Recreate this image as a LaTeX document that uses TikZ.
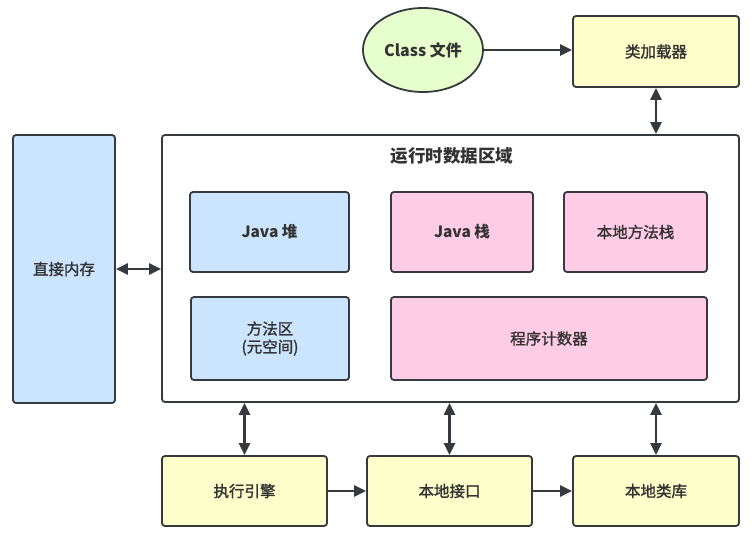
\documentclass[tikz,border=0pt]{standalone}
\usepackage{fontspec}
\setmainfont{Noto Sans CJK SC}
\newfontfamily\medfont[FakeBold=1.6]{Noto Sans CJK SC}
\usetikzlibrary{arrows.meta,shapes.geometric}
\definecolor{strk}{HTML}{36393D}
\definecolor{txt}{HTML}{333333}
\definecolor{yel}{HTML}{FFFFCC}
\definecolor{blu}{HTML}{CCE5FF}
\definecolor{pnk}{HTML}{FFCCE6}
\definecolor{grn}{HTML}{E6FFCC}
\tikzset{
  box/.style={draw=strk, line width=1.8pt, rounded corners=3pt, text=txt, font=\medfont\fontsize{15.5}{18}\selectfont, align=center, inner sep=0pt},
  boldtext/.style={font=\fontsize{15.5}{18}\selectfont\bfseries},
  ybox/.style={box, fill=yel},
  bbox/.style={box, fill=blu},
  pbox/.style={box, fill=pnk},
  conn/.style={draw=strk, line width=2.6pt, -{Triangle[length=12pt,width=11pt]}},
  dconn/.style={draw=strk, line width=2.6pt, {Triangle[length=12pt,width=11pt]}-{Triangle[length=12pt,width=11pt]}}
}
\begin{document}
\begin{tikzpicture}[x=1pt,y=-1pt]
\useasboundingbox[fill=white] (0,0) rectangle (755,538);
% top
\node[ellipse, draw=strk, line width=1.8pt, fill=grn, minimum width=120pt, minimum height=84pt, inner sep=0pt, text=txt, font=\fontsize{16}{19}\selectfont\bfseries] (cls) at (423,50) {Class 文件};
\node[ybox, minimum width=166pt, minimum height=71pt] (loader) at (656,51.5) {类加载器};
% runtime area
\node[box, fill=white, minimum width=577pt, minimum height=267pt] (rt) at (450.5,268.5) {};
\node[text=txt, font=\fontsize{17.5}{20}\selectfont\bfseries] (title) at (452,156) {运行时数据区域};
\node[bbox, minimum width=102pt, minimum height=268pt] (mem) at (64,269) {直接内存};
\node[bbox, boldtext, minimum width=159pt, minimum height=80pt] (heap) at (269.5,232) {Java 堆};
\node[bbox, minimum width=158pt, minimum height=83pt] (method) at (270,338.5) {方法区\\(元空间)};
\node[pbox, boldtext, minimum width=142pt, minimum height=80pt] (jstack) at (462,232) {Java 栈};
\node[pbox, minimum width=143pt, minimum height=80pt] (nstack) at (635.5,232) {本地方法栈};
\node[pbox, minimum width=316pt, minimum height=83pt] (pc) at (549,338.5) {程序计数器};
% bottom
\node[ybox, minimum width=165pt, minimum height=70pt] (exec) at (244.5,491) {执行引擎};
\node[ybox, minimum width=165pt, minimum height=70pt] (nif) at (449.5,491) {本地接口};
\node[ybox, minimum width=166pt, minimum height=70pt] (nlib) at (656,491) {本地类库};
% connectors
\draw[conn] (cls.east) -- (cls.east -| loader.west);
\draw[dconn] (loader.south) -- (loader.south |- rt.north);
\draw[dconn] (mem.east) -- (mem.east -| rt.west);
\draw[dconn] (exec.north) -- (exec.north |- rt.south);
\draw[dconn] (nif.north) -- (nif.north |- rt.south);
\draw[dconn] (nlib.north) -- (nlib.north |- rt.south);
\draw[conn] (exec.east) -- (nif.west);
\draw[conn] (nif.east) -- (nlib.west);
\end{tikzpicture}
\end{document}
